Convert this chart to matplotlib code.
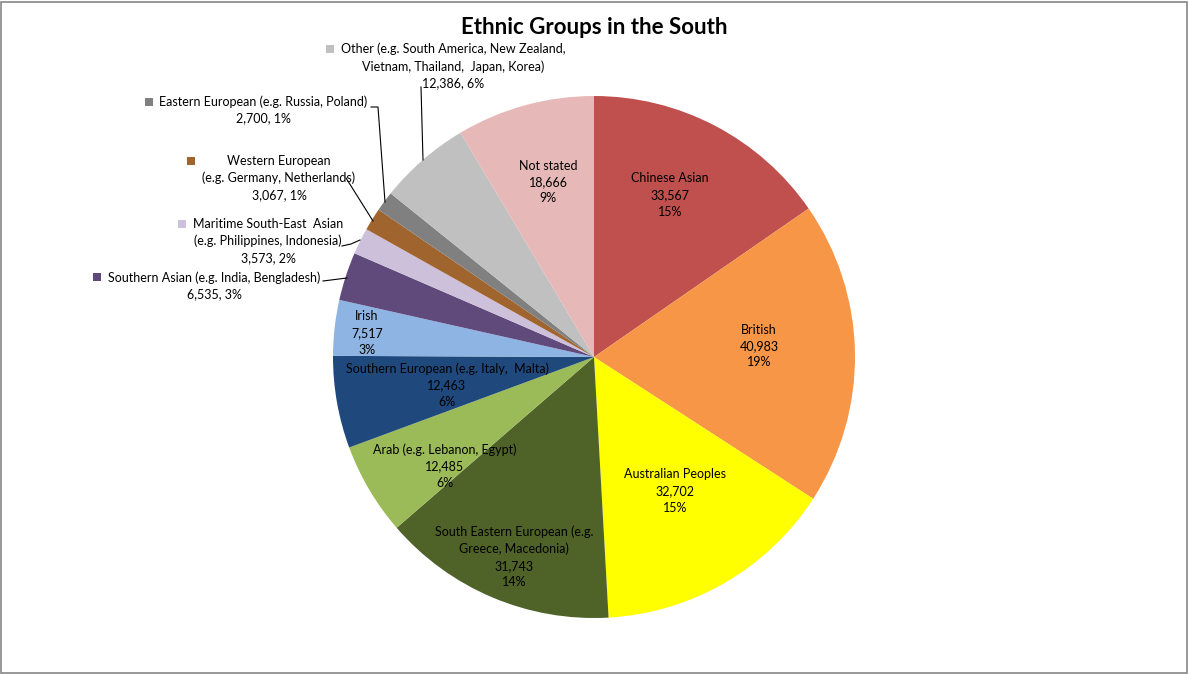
import matplotlib
matplotlib.use("Agg")
import matplotlib.pyplot as plt
from matplotlib.patches import Rectangle

# data, clockwise from 12 o'clock
groups = ["Chinese Asian", "British", "Australian Peoples",
          "South Eastern European (e.g.\nGreece, Macedonia)",
          "Arab (e.g. Lebanon, Egypt)",
          "Southern European (e.g. Italy,  Malta)",
          "Irish", "Southern Asian (e.g. India, Bengladesh)",
          "Maritime South-East  Asian\n(e.g. Philippines, Indonesia)",
          "Western European\n(e.g. Germany, Netherlands)",
          "Eastern European (e.g. Russia, Poland)",
          "Other (e.g. South America, New Zealand,\nVietnam, Thailand,  Japan, Korea)",
          "Not stated"]
counts = [33567, 40983, 32702, 31743, 12485, 12463, 7517, 6535,
          3573, 3067, 2700, 12386, 18666]
pcts = [15, 19, 15, 14, 6, 6, 3, 3, 2, 1, 1, 6, 9]
colors = ["#C0504D", "#F79646", "#FFFF00", "#4F6228", "#9BBB59", "#1F497D",
          "#8DB4E2", "#604A7B", "#CCC0DA", "#A0652F", "#808080", "#C0C0C0",
          "#E6B9B8"]

plt.rcParams['font.family'] = ['Lato', 'DejaVu Sans']
W, H = 1189, 674
fig = plt.figure(figsize=(W / 100, H / 100), dpi=100)
ax = fig.add_axes([0, 0, 1, 1])

def Y(y):
    return H - y

cx, cy, r = 594, 357, 261
ax.pie(counts, colors=colors, startangle=90, counterclock=False,
       center=(cx, Y(cy)), radius=r, frame=True,
       wedgeprops=dict(linewidth=0))
ax.set_xlim(0, W)
ax.set_ylim(0, H)
ax.set_aspect('equal')
ax.axis('off')

def lbl(i, sep="\n"):
    return "{}\n{:,}{}{}%".format(groups[i], counts[i], sep, pcts[i])

fs = 9
ls = 1.45
# labels inside the slices
inside = {0: (670, 195), 1: (759, 346), 2: (675, 491), 3: (514, 557),
          4: (445, 466), 5: (447, 385), 6: (367, 333), 12: (548, 182)}
for i, (x, y) in inside.items():
    ax.text(x, Y(y), lbl(i), ha='center', va='center', fontsize=fs,
            linespacing=ls, color='black')

# labels outside with leader lines and a legend key
outside = {11: ((453, 66), (330, 49)), 10: ((263, 110), (149, 102)),
           9: ((279, 178), (191, 161)), 8: ((268, 241), (182, 224)),
           7: ((214, 286), (97, 277))}
for i, ((x, y), (kx, ky)) in outside.items():
    ax.text(x, Y(y), lbl(i, sep=", "), ha='center', va='center',
            fontsize=fs, linespacing=ls, color='black')
    ax.add_patch(Rectangle((kx - 4, Y(ky) - 4), 8, 8, color=colors[i], lw=0))

leaders = [[(421, 87), (423, 160)],
           [(371, 107), (378, 107), (385, 202)],
           [(346, 178), (373, 221)],
           [(342, 246), (351, 244), (360, 240)],
           [(323, 281), (347, 278)]]
for pts in leaders:
    ax.plot([p[0] for p in pts], [Y(p[1]) for p in pts], color='black', lw=0.8)

ax.text(594, Y(27), "Ethnic Groups in the South", ha='center', va='center',
        fontsize=16, fontweight='bold')

# chart border
ax.add_patch(Rectangle((1, 1), W - 3, H - 3, fill=False, edgecolor='#868686', lw=1.2))

fig.savefig("out.png", dpi=100)
